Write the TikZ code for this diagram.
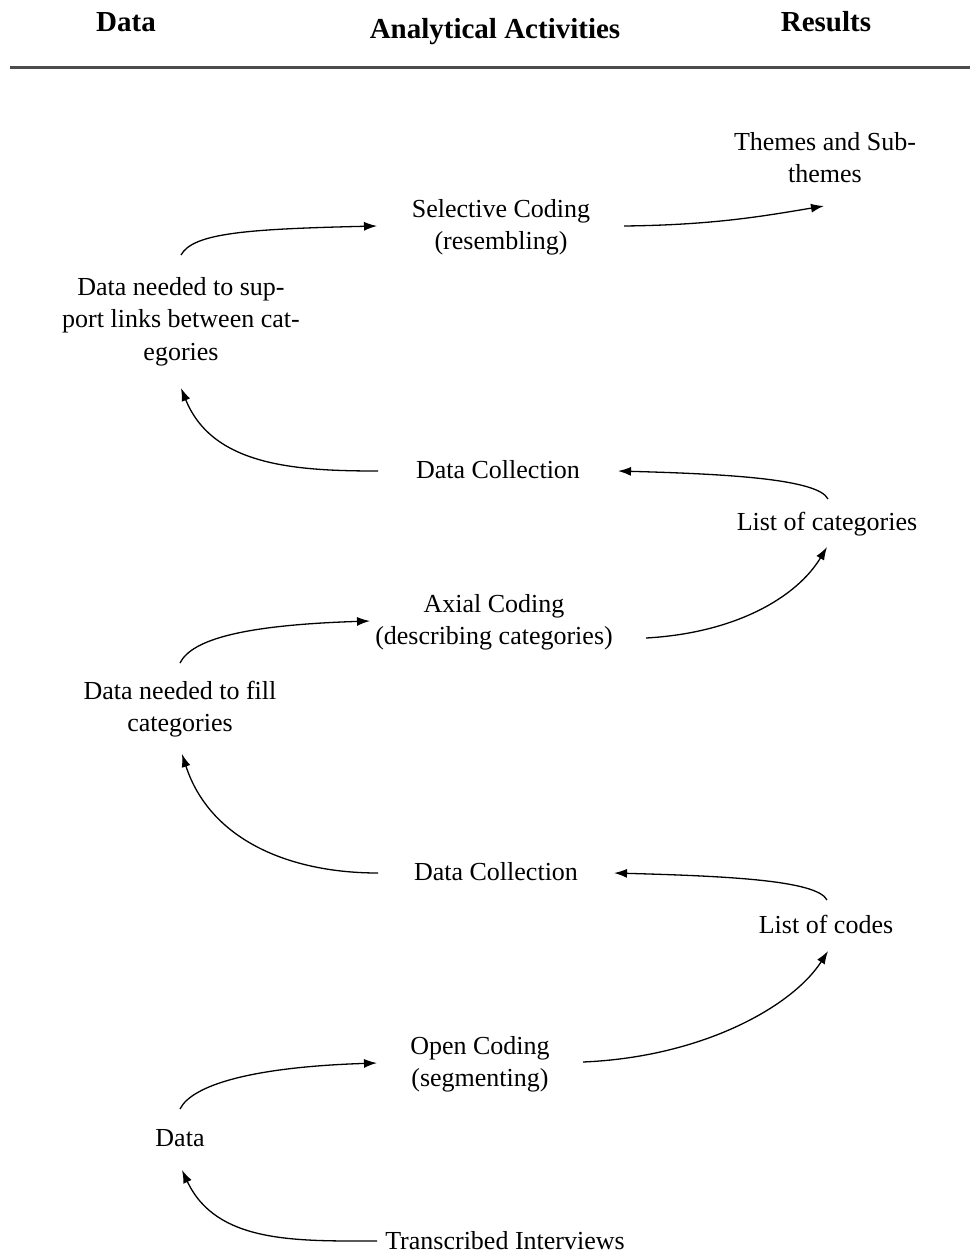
\documentclass[tikz,border=0pt]{standalone}
\usepackage{fontspec}
\setmainfont{Liberation Serif}
\usetikzlibrary{arrows.meta}
\begin{document}
\begin{tikzpicture}[x=1pt,y=1pt,
  lbl/.style={font=\fontsize{26}{32.5}\selectfont, align=center, inner sep=0pt},
  hdr/.style={font=\fontsize{29}{34}\selectfont\bfseries, anchor=base, inner sep=0pt},
  flow/.style={line width=1.3pt, -{Latex[length=13pt,width=9pt]}},
  rulestyle/.style={line width=2.4pt, black!70}]
\useasboundingbox (0,0) rectangle (970,-1253);

% column headings and rule
\node[hdr] (hdata) at (126,-31) {Data};
\node[hdr] (hact)  at (495,-38) {Analytical Activities};
\node[hdr] (hres)  at (826,-31) {Results};
\draw[rulestyle] (10,-67.5) -- (970,-67.5);

% stages
\node[lbl] (thm)   at (825,-160)    {\strut Themes and Sub-\\\strut themes};
\node[lbl] (sel)   at (501,-227)    {\strut Selective Coding\\\strut (resembling)};
\node[lbl] (dsup)  at (181,-321)    {\strut Data needed to sup-\\\strut port links between cat-\\\strut egories};
\node[lbl] (dc1)   at (498,-471.5)  {\strut Data Collection};
\node[lbl] (loc)   at (827,-523.5)  {\strut List of categories};
\node[lbl] (axi)   at (494,-622)    {\strut Axial Coding\\\strut (describing categories)};
\node[lbl] (dfill) at (180,-709)    {\strut Data needed to fill\\\strut categories};
\node[lbl] (dc2)   at (496,-873.5)  {\strut Data Collection};
\node[lbl] (lcd)   at (826,-926.5)  {\strut List of codes};
\node[lbl] (opn)   at (480,-1064)   {\strut Open Coding\\\strut (segmenting)};
\node[lbl] (dat)   at (180,-1139.5) {\strut Data};
\node[lbl] (tri)   at (505,-1242.5) {\strut Transcribed Interviews};

% data -> coding (rising, then flat)
\draw[flow] ([shift={(0,66)}]dsup.center) .. controls +(12,22) and +(-130,-3) .. ([shift={(-124,1)}]sel.center);
\draw[flow] ([shift={(0,46)}]dfill.center) .. controls +(12,24) and +(-125,-4) .. ([shift={(-124,1)}]axi.center);
\draw[flow] ([shift={(0,30.5)}]dat.center) .. controls +(12,24) and +(-125,-4) .. ([shift={(-103,1)}]opn.center);

% coding -> results
\draw[flow] ([shift={(123,1)}]sel.center) .. controls +(90,1) and +(-60,-10) .. ([shift={(-1,-46)}]thm.center);
\draw[flow] ([shift={(152,-16)}]axi.center) .. controls +(90,5) and +(-30,-50) .. ([shift={(0,-23.5)}]loc.center);
\draw[flow] ([shift={(103,2)}]opn.center) .. controls +(120,5) and +(-35,-55) .. ([shift={(2,-24.5)}]lcd.center);

% results -> data collection
\draw[flow] ([shift={(1,24.5)}]loc.center) .. controls +(-10,20) and +(110,-3) .. ([shift={(120,0.5)}]dc1.center);
\draw[flow] ([shift={(1,26.5)}]lcd.center) .. controls +(-10,20) and +(110,-3) .. ([shift={(118,0.5)}]dc2.center);

% data collection / transcripts -> data
\draw[flow] ([shift={(-120,0.5)}]dc1.center) to[out=180,in=-68] ([shift={(0,-67)}]dsup.center);
\draw[flow] ([shift={(-118,0.5)}]dc2.center) to[out=180,in=-72] ([shift={(2,-45)}]dfill.center);
\draw[flow] ([shift={(-128,1.5)}]tri.center) to[out=180,in=-65] ([shift={(2,-30.5)}]dat.center);
\end{tikzpicture}
\end{document}
